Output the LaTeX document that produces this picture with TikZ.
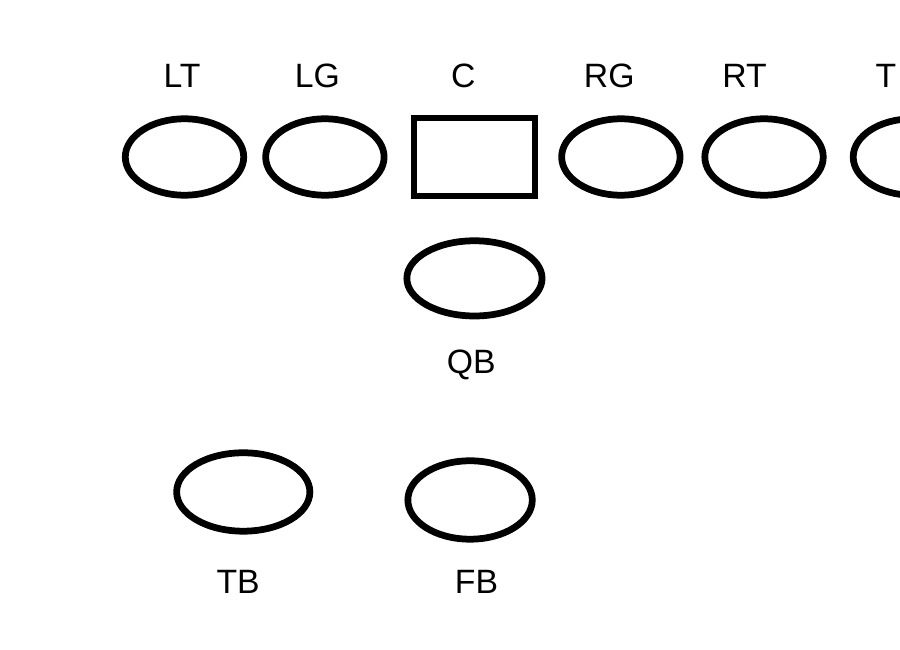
\documentclass[tikz,border=0pt]{standalone}
\usepackage{fontspec}
\setmainfont{Liberation Sans}
\usepackage{tikz}
\usetikzlibrary{shapes.geometric, positioning}
\tikzset{
  player/.style={ellipse,draw=black,line width=4.8pt,inner sep=0pt,minimum width=2.96cm,minimum height=1.91cm},
  player_w/.style={player,minimum width=3.38cm,minimum height=1.88cm},
  snapper/.style={rectangle,draw=black,line width=4.8pt,inner sep=0pt,minimum width=3.02cm,minimum height=1.95cm},
  tag/.style={inner sep=0pt,font=\fontsize{24}{26}\selectfont,text height=17.2pt,text depth=0pt},
}

\begin{document}
\begin{tikzpicture}[x=0.025cm,y=-0.025cm]
	    \clip (0,0) rectangle (900,650);
	    \node[player] (LT) at (184.5,157) {};
	    \node[player,right=0.38cm of LT] (LG) {};
	    \node[snapper,right=0.58cm of LG] (C) {};
	    \node[player,right=0.5cm of C] (RG) {};
	    \node[player,right=0.45cm of RG] (RT) {};
	    \node[player,right=0.58cm of RT] (TE) {};
	    \node[player_w,below=0.95cm of C] (QB) {};
	    \node[player,minimum width=3.11cm,minimum height=1.96cm,below=3.45cm of QB,xshift=-0.11cm] (FB) {};
	    \node[player,minimum width=3.33cm,minimum height=1.96cm,left=2.28cm of FB,yshift=0.2cm] (TB) {};
	    \node[tag,above=0.68cm of LT,xshift=-0.06cm] (tLT) {LT};
	    \node[tag,above=0.68cm of LG,xshift=-0.19cm] (tLG) {LG};
	    \node[tag,above=0.68cm of C,xshift=-0.28cm] (tC) {C};
	    \node[tag,above=0.68cm of RG,xshift=-0.29cm] (tRG) {RG};
	    \node[tag,above=0.68cm of RT,xshift=-0.49cm] (tRT) {RT};
	    \node[tag,above=0.68cm of TE,xshift=-0.66cm] (tTE) {T};
	    \node[tag,below=0.73cm of QB,xshift=-0.08cm] (tQB) {QB};
	    \node[tag,below=0.85cm of TB,xshift=-0.13cm] (tTB) {TB};
	    \node[tag,below=0.65cm of FB,xshift=0.16cm] (tFB) {FB};
\end{tikzpicture}
\end{document}
